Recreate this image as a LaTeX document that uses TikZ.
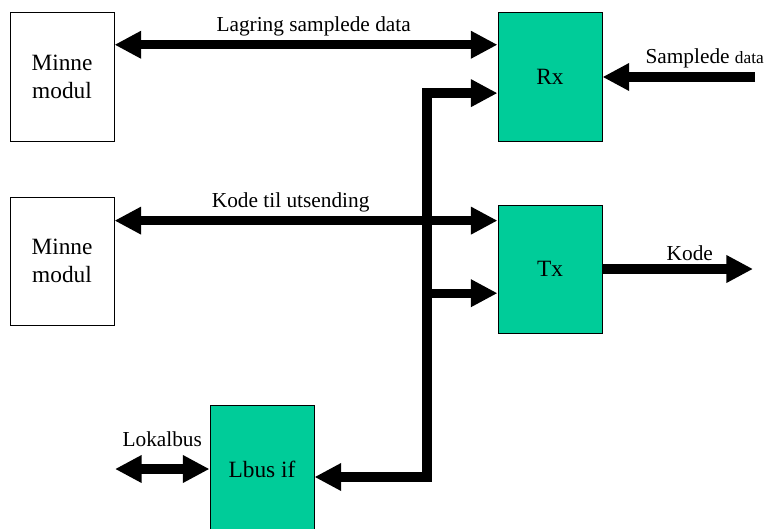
\documentclass[tikz,border=0pt]{standalone}
\usepackage{fontspec}
\setmainfont{Liberation Serif}
\usetikzlibrary{arrows.meta,calc}
\definecolor{modgreen}{RGB}{0,204,153}

\begin{document}
\begin{tikzpicture}[x=0.75pt,y=-0.75pt,>={Triangle[length=20pt,width=19.5pt]},
                    blk/.style={draw,line width=0.75pt,minimum width=78pt,minimum height=96pt,inner sep=0pt,align=center,font=\fontsize{17.5}{21}\selectfont},
                    hw/.style={blk,fill=modgreen},
                    fat/.style={line width=7pt,line join=miter},
                    lbl/.style={font=\fontsize{16}{19}\selectfont,inner sep=2pt}]

\useasboundingbox (0,0) rectangle (766,528);

\node[blk] (M1) at (62,77)  {Minne\\modul};
\node[blk] (M2) at (62,261) {Minne\\modul};
\node[hw]  (Rx) at (550,77)  {Rx};
\node[hw]  (Tx) at (550,269) {Tx};
\node[hw]  (Lb) at (262,469) {Lbus if};

% tilkoplingspunkter
\coordinate (RxA) at ($(Rx.north west)!0.25!(Rx.south west)$);
\coordinate (RxB) at ($(Rx.north west)!0.625!(Rx.south west)$);
\coordinate (TxA) at ($(Tx.north west)!0.125!(Tx.south west)$);
\coordinate (TxB) at ($(Tx.north west)!0.6875!(Tx.south west)$);
\coordinate (LbIn) at ([yshift=-6pt]Lb.east);
\coordinate (BusX) at (427,0);
\coordinate (Lok) at (115,469);
\coordinate (SdIn) at (755,77);
\coordinate (KdOut) at (753,269);

\path
	(M1.east |- RxA) edge[fat,<->] node[lbl,pos=0.52,above=1pt] {Lagring samplede data} (RxA)
	(M2.east |- TxA) edge[fat,<->] node[lbl,pos=0.46,above=1pt] {Kode til utsending} (TxA);

\path
	(SdIn) edge[fat,->] node[lbl,pos=0.33,above=1pt] {Samplede {\fontsize{13}{15}\selectfont data}} (Rx.east)
	(Tx.east) edge[fat,->] node[lbl,pos=0.58,above=1pt] {Kode} (KdOut);

\path
	(Lok) edge[fat,<->] node[lbl,above=11pt] {Lokalbus} (Lb.west);

% lokalbussen
\draw[fat,<->] (LbIn) -- (LbIn -| BusX) -- (RxB -| BusX) -- (RxB);
\draw[fat,->] (TxB -| BusX) -- (TxB);

\end{tikzpicture}
\end{document}
